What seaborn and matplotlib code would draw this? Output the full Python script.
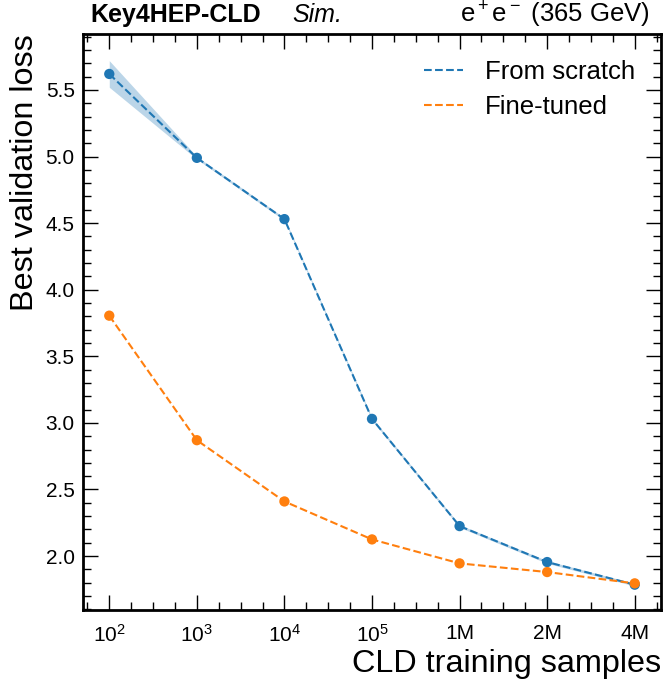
import numpy as np
import pandas as pd
import matplotlib
matplotlib.use("Agg")
import matplotlib.pyplot as plt
import seaborn as sns
from matplotlib.ticker import MultipleLocator, FixedLocator

# ---- data ----
sample_labels = [r"$10^2$", r"$10^3$", r"$10^4$", r"$10^5$", "1M", "2M", "4M"]
scratch_loss = [5.62, 4.99, 4.53, 3.03, 2.225, 1.955, 1.785]
scratch_low = [5.52, 4.98, 4.52, 3.02, 2.215, 1.945, 1.775]
scratch_high = [5.72, 5.00, 4.54, 3.04, 2.235, 1.965, 1.795]
finetuned_loss = [3.805, 2.87, 2.41, 2.125, 1.945, 1.88, 1.795]

sns.set_theme(style="ticks", rc={
    "axes.edgecolor": "black", "xtick.color": "black", "ytick.color": "black",
    "text.color": "black", "axes.labelcolor": "black",
})
plt.rcParams["font.family"] = ["Liberation Sans", "DejaVu Sans"]
plt.rcParams["mathtext.fontset"] = "custom"
plt.rcParams["mathtext.rm"] = "Liberation Sans"
plt.rcParams["mathtext.it"] = "Liberation Sans:italic"

pos = list(range(len(sample_labels)))
df = pd.DataFrame({
    "pos": pos * 2,
    "loss": scratch_loss + finetuned_loss,
    "mode": ["From scratch"] * len(pos) + ["Fine-tuned"] * len(pos),
})
palette = {"From scratch": "#1f77b4", "Fine-tuned": "#ff7f0e"}

fig = plt.figure(figsize=(6.63, 6.79), dpi=100)
ax = fig.add_axes([83 / 663, 1 - 610 / 679, (661 - 83) / 663, (610 - 34) / 679])

ax.fill_between(pos, scratch_low, scratch_high, color="#1f77b4", alpha=0.3, linewidth=0)
sns.lineplot(data=df, x="pos", y="loss", hue="mode", palette=palette, ax=ax,
             linestyle="--", linewidth=1.5, errorbar=None)
sns.scatterplot(data=df, x="pos", y="loss", hue="mode", palette=palette, ax=ax,
                s=55, edgecolor="none", legend=False, zorder=3)

ax.set_xlim(-0.3, 6.3)
ax.set_ylim(1.595, 5.92)
ax.xaxis.set_major_locator(FixedLocator(pos))
ax.set_xticklabels(sample_labels)
ax.xaxis.set_minor_locator(MultipleLocator(0.25))
ax.yaxis.set_major_locator(MultipleLocator(0.5))
ax.yaxis.set_minor_locator(MultipleLocator(0.1))

ax.tick_params(which="both", direction="in", top=True, right=True, labelsize=15, width=1.0)
ax.tick_params(which="major", length=11)
ax.tick_params(which="minor", length=6)
ax.tick_params(axis="x", which="major", pad=10)
ax.tick_params(axis="y", which="major", pad=6)
for sp in ax.spines.values():
    sp.set_linewidth(2)

ax.set_xlabel("CLD training samples", fontsize=23.3, loc="right", labelpad=2)
ax.set_ylabel("Best validation loss", fontsize=23.3, loc="top", labelpad=4)

leg = ax.legend(loc="upper right", fontsize=18.5, frameon=False, handlelength=1.55,
                handletextpad=0.85, borderaxespad=0.6, labelspacing=0.45)

ty = 1 + 12 / 576
ax.text((90 - 83) / 578, ty, "Key4HEP-CLD", transform=ax.transAxes, fontsize=18,
        fontweight="bold", ha="left", va="baseline")
ax.text((292 - 83) / 578, ty, "Sim.", transform=ax.transAxes, fontsize=18,
        fontstyle="italic", ha="left", va="baseline")
ax.text((650 - 83) / 578, ty, r"e$^+$e$^-$ (365 GeV)", transform=ax.transAxes,
        fontsize=18.5, ha="right", va="baseline")

fig.savefig("out.png", dpi=100)
